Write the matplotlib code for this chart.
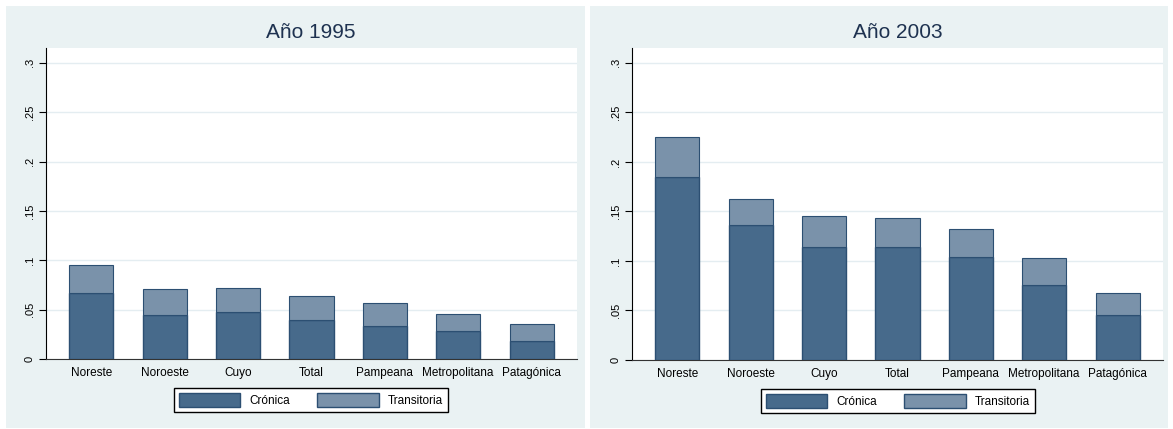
import numpy as np
import matplotlib
matplotlib.use("Agg")
import matplotlib.pyplot as plt
from matplotlib.patches import Rectangle, Patch

# data
regiones = ["Noreste", "Noroeste", "Cuyo", "Total", "Pampeana", "Metropolitana", "Patagónica"]
cronica_1995 = [0.067, 0.045, 0.048, 0.040, 0.033, 0.028, 0.018]
total_1995 = [0.0955, 0.0705, 0.0715, 0.0635, 0.057, 0.046, 0.035]
cronica_2003 = [0.185, 0.136, 0.114, 0.114, 0.1035, 0.076, 0.0455]
total_2003 = [0.2255, 0.1625, 0.1452, 0.1431, 0.1324, 0.1032, 0.0672]
yticks = [0, 0.05, 0.1, 0.15, 0.2, 0.25, 0.3]
ytick_labels = ["0", ".05", ".1", ".15", ".2", ".25", ".3"]

c_cron = "#476a8b"
c_tran = "#7a92aa"
c_edge = "#2c4f72"
bg = "#eaf2f3"
W, H = 1173, 429

plt.rcParams['font.family'] = ['Liberation Sans', 'DejaVu Sans']
fig = plt.figure(figsize=(W / 100, H / 100), dpi=100)
fig.patch.set_facecolor("white")

def px(x0, y0, x1, y1):
    # pixel box (top-left origin) -> figure fraction
    return [x0 / W, 1 - y1 / H, (x1 - x0) / W, (y1 - y0) / H]

def panel(bgbox, axbox, title, title_x, cron, tot, leg_y):
    b = px(*bgbox)
    fig.patches.append(Rectangle((b[0], b[1]), b[2], b[3], transform=fig.transFigure,
                                 facecolor=bg, edgecolor="none", zorder=-5))
    ax = fig.add_axes(px(*axbox))
    ax.set_zorder(2)
    ax.set_facecolor("white")
    x = np.arange(len(regiones))
    cron = np.array(cron)
    tran = np.array(tot) - cron
    ax.bar(x, cron, width=0.6, color=c_cron, edgecolor=c_edge, linewidth=1, zorder=3)
    ax.bar(x, tran, bottom=cron, width=0.6, color=c_tran, edgecolor=c_edge, linewidth=0.8, zorder=3)
    ax.set_xlim(-0.62, 6.62)
    ax.set_ylim(0, 0.315)
    ax.set_yticks(yticks)
    ax.set_yticklabels(ytick_labels, rotation=90, va="center", fontsize=8)
    ax.set_xticks(x)
    ax.set_xticklabels(regiones, fontsize=8.5)
    ax.tick_params(axis="x", length=0, pad=6)
    ax.tick_params(axis="y", length=5, width=0.8, pad=3)
    ax.grid(axis="y", color="#e4edf1", linewidth=1, zorder=0)
    for s in ["top", "right"]:
        ax.spines[s].set_visible(False)
    ax.spines["left"].set_color("black")
    ax.spines["bottom"].set_color("#333333")
    fig.text(title_x / W, 1 - 33 / H, title, ha="center", va="center",
             fontsize=15, color="#1e3250")
    handles = [Patch(facecolor=c_cron, edgecolor=c_edge, label="Crónica"),
               Patch(facecolor=c_tran, edgecolor=c_edge, label="Transitoria")]
    leg = fig.legend(handles=handles, loc="center", ncol=2, fontsize=8.5,
                     bbox_to_anchor=(title_x / W, 1 - leg_y / H), frameon=True,
                     fancybox=False, handlelength=5.2, handleheight=1.4,
                     columnspacing=2.3, borderpad=0.4, edgecolor="black",
                     facecolor="white", framealpha=1)
    leg.get_frame().set_linewidth(1)
    leg.set_zorder(3)
    return ax

panel((6, 6, 585, 428), (46, 48, 577, 359), "Año 1995", 311, cronica_1995, total_1995, 400)
panel((590, 6, 1168, 428), (632, 48, 1163, 360), "Año 2003", 898, cronica_2003, total_2003, 401)

fig.savefig("out.png", dpi=100, facecolor="white")
